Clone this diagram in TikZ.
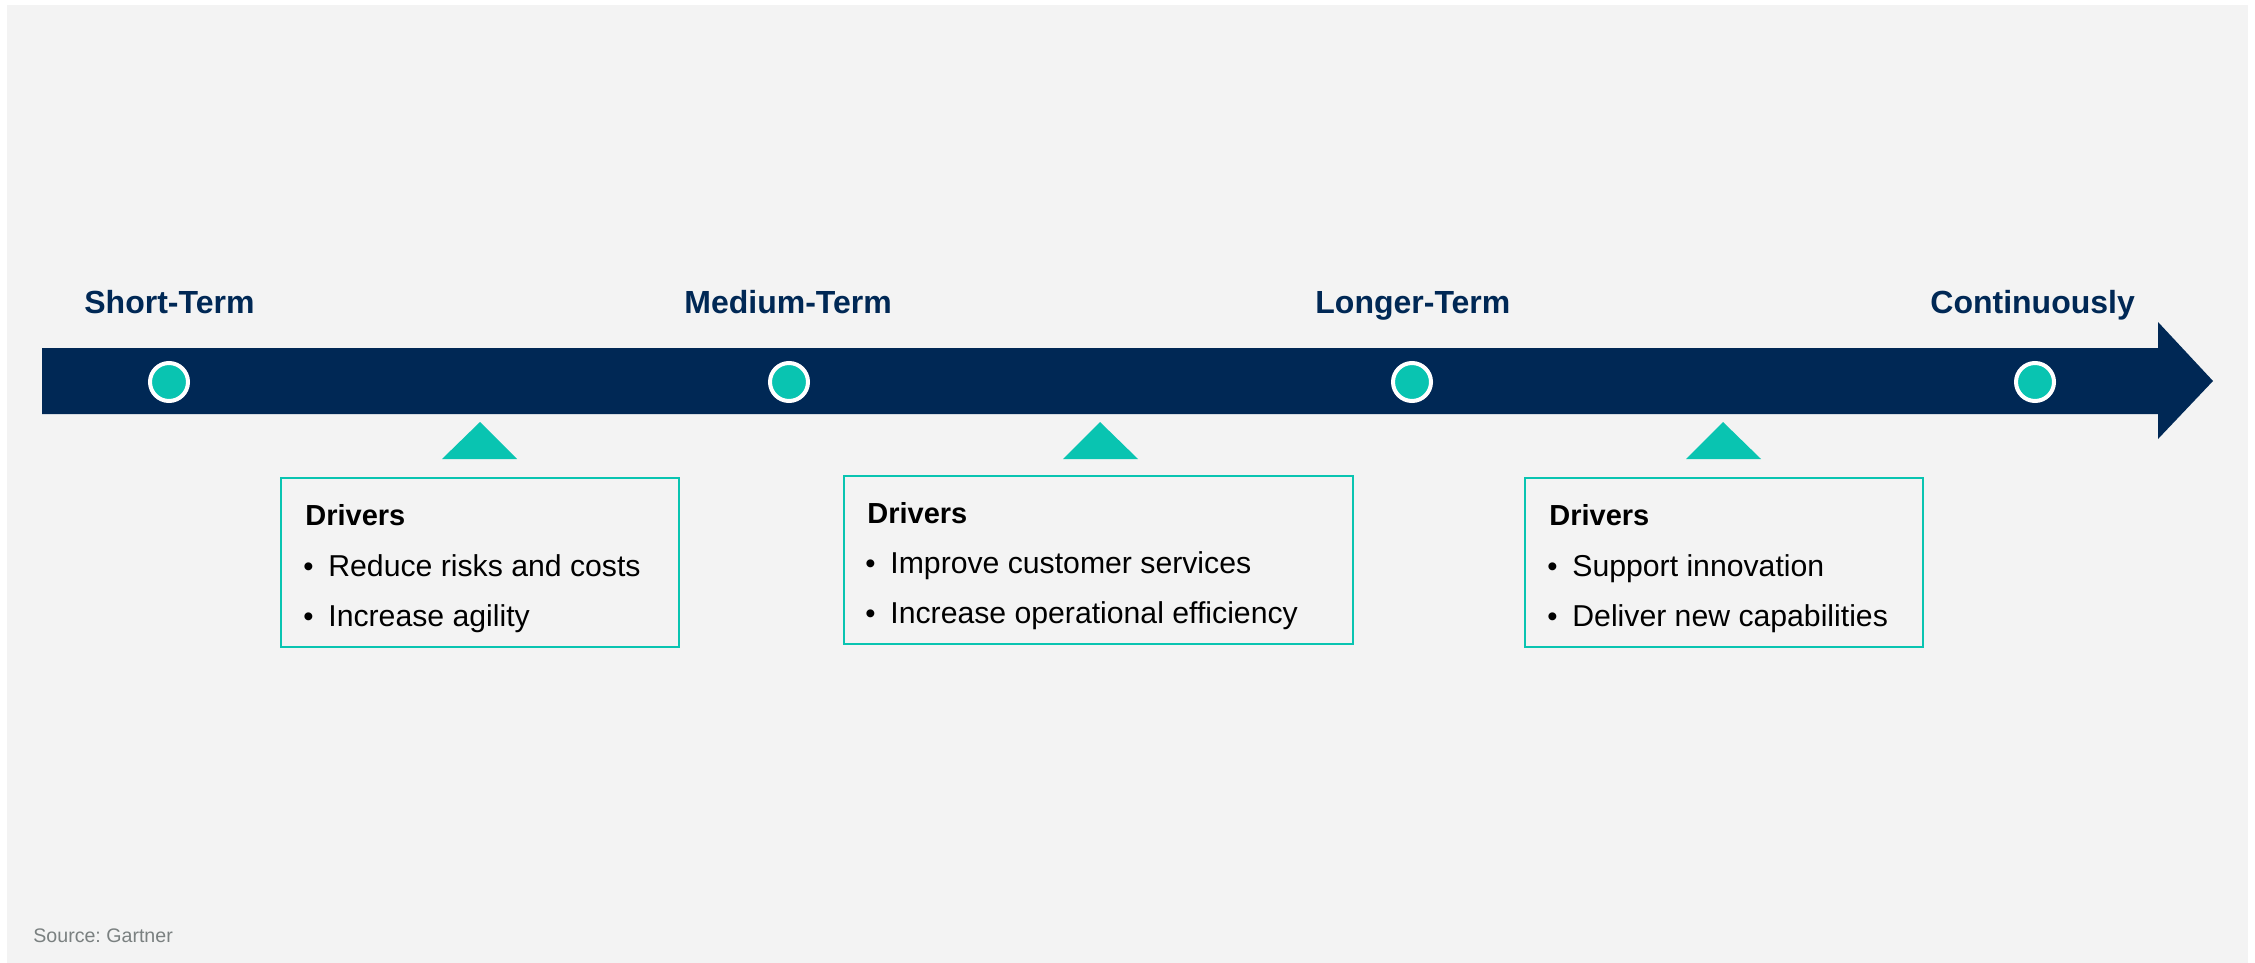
\documentclass[tikz,border=0pt]{standalone}
\usepackage{fontspec}
\setmainfont{Liberation Sans}
\frenchspacing
\definecolor{navy}{HTML}{002855}
\definecolor{teal}{HTML}{09C4B1}
\definecolor{bggray}{HTML}{F3F3F3}
\definecolor{srcgray}{HTML}{7A8080}
\tikzset{
  phase/.style={anchor=base west, inner sep=0pt, text=navy, font=\fontsize{16}{18}\selectfont\bfseries},
  dot/.style={circle, draw=white, line width=2pt, fill=teal, minimum size=19pt, inner sep=0pt},
  pointer/.style={fill=teal, draw=none},
  driverbox/.style={draw=teal, line width=1.3pt, fill=none},
  drvtitle/.style={anchor=base west, inner sep=0pt, font=\fontsize{14.5}{16}\selectfont\bfseries},
  drvitem/.style={anchor=base west, inner sep=0pt, font=\fontsize{15.1}{17}\selectfont},
  bulletmark/.style={anchor=base west, inner sep=0pt, font=\fontsize{14.6}{16}\selectfont},
}
\begin{document}
\begin{tikzpicture}[x=0.5pt,y=-0.5pt]
\useasboundingbox (0,0) rectangle (2255,963);
\fill[white] (0,0) rectangle (2255,963);
\fill[bggray] (7,5) rectangle (2248,963);
% timeline arrow
\fill[navy] (42,348) -- (2158,348) -- (2158,322) -- (2213,381) -- (2158,439) -- (2158,414) -- (42,414) -- cycle;
% phase labels
\node[phase] (t1) at (84,313) {Short-Term};
\node[phase] (t2) at (684,313) {Medium-Term};
\node[phase] (t3) at (1315,313) {Longer-Term};
\node[phase] (t4) at (1930,313) {Continuously};
% dots
\node[dot] (d1) at (169,382) {};
\node[dot] (d2) at (789,382) {};
\node[dot] (d3) at (1412,382) {};
\node[dot] (d4) at (2035,382) {};
% pointers
\fill[pointer] (442,459) -- (480,422) -- (517,459) -- cycle;
\fill[pointer] (1063,459) -- (1100,422) -- (1138,459) -- cycle;
\fill[pointer] (1686,459) -- (1723,422) -- (1761,459) -- cycle;
% boxes
\draw[driverbox] (281,478) rectangle (679,647);
\draw[driverbox] (844,476) rectangle (1353,644);
\draw[driverbox] (1525,478) rectangle (1923,647);
% box 1
\node[drvtitle] (b1t) at (305,525) {Drivers};
\node[bulletmark] (b1m1) at (303,576) {•};
\node[drvitem] (b1i1) at (328,576) {Reduce risks and costs};
\node[bulletmark] (b1m2) at (303,626) {•};
\node[drvitem] (b1i2) at (328,626) {Increase agility};
% box 2
\node[drvtitle] (b2t) at (867,523) {Drivers};
\node[bulletmark] (b2m1) at (865,573) {•};
\node[drvitem] (b2i1) at (890,573) {Improve customer services};
\node[bulletmark] (b2m2) at (865,623) {•};
\node[drvitem] (b2i2) at (890,623) {Increase operational efficiency};
% box 3
\node[drvtitle] (b3t) at (1549,525) {Drivers};
\node[bulletmark] (b3m1) at (1547,576) {•};
\node[drvitem] (b3i1) at (1572,576) {Support innovation};
\node[bulletmark] (b3m2) at (1547,626) {•};
\node[drvitem] (b3i2) at (1572,626) {Deliver new capabilities};
% source
\node[anchor=base west, inner sep=0pt, text=srcgray, font=\fontsize{9.8}{12}\selectfont] (src) at (33,942) {Source: Gartner};
\end{tikzpicture}
\end{document}
